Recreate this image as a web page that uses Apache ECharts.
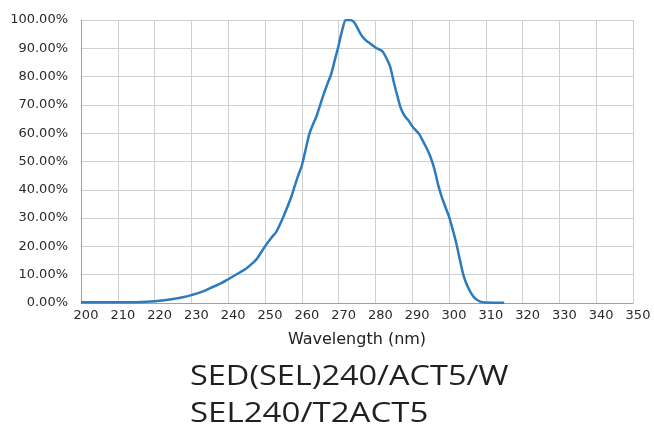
<!DOCTYPE html>
<html><head><meta charset="utf-8">
<script src="https://cdn.jsdelivr.net/npm/echarts@6/dist/echarts.min.js"></script>
<style>html,body{margin:0;padding:0;background:#fff}#c{width:654px;height:432px}</style>
</head><body><div id="c"></div>
<script>
const wavelengths = [200,205,210,215,218,220,222,225,228,230,233,235,238,240,243,245,247,248,250,252,253,255,257,258,259,260,261,262,263,264,265,266,267,268,269,270,271,272,273,274,275,276,277,278,279,280,281,282,283,284,285,286,287,288,289,290,291,292,293,294,295,296,297,298,299,300,301,302,303,304,305,306,307,308,309,310,312,315];
const intensity = [0.3,0.3,0.3,0.3,0.4,0.6,0.9,1.4,2.1,2.8,4.0,5.2,6.9,8.4,10.7,12.3,14.5,16,20,23.5,25,30.5,37,41,45,48.5,54,59.5,63,66,70,74,77.5,81,86,91,96.5,100,100,99.5,97.5,95,93.3,92.2,91.3,90.3,89.6,88.8,86.5,83.5,78,73,68.5,66,64.5,62.5,61,59.5,57,54.5,51.5,47.5,42,37.6,34,30.5,26,21,15,9.5,6,3.5,1.7,0.8,0.3,0.15,0.1,0.1];
const titleLines = ["SED(SEL)240/ACT5/W", "SEL240/T2ACT5"];
const xName = "Wavelength (nm)";

const chart = echarts.init(document.getElementById('c'), null, {renderer:'canvas'});
const titleFont = 'normal 28px "Open Sans"';
chart.setOption({
  animation:false,
  backgroundColor:'#fff',
  grid:{left:81,right:21,top:20,bottom:129,containLabel:false},
  graphic:[
    {type:'text',x:190,y:363,scaleX:1.16,style:{text:titleLines[0],font:titleFont,fill:'#231f20',verticalAlign:'top',align:'left'}},
    {type:'text',x:190,y:400,scaleX:1.18,style:{text:titleLines[1],font:titleFont,fill:'#231f20',verticalAlign:'top',align:'left'}}
  ],
  xAxis:{type:'value',min:200,max:350,interval:10,
    name:xName,nameLocation:'middle',nameGap:29,
    nameTextStyle:{fontFamily:'DejaVu Sans',fontSize:16,color:'#222'},
    axisLine:{show:true,lineStyle:{color:'#a0a0a0',width:1}},
    axisTick:{show:false},
    axisLabel:{fontFamily:'DejaVu Sans',fontSize:13,color:'#2a2a2a',margin:6,padding:[0,0,0,10]},
    splitLine:{show:true,lineStyle:{color:'#cfcfcf',width:1}}
  },
  yAxis:{type:'value',min:0,max:100,interval:10,
    axisLine:{show:true,lineStyle:{color:'#a0a0a0',width:1}},
    axisTick:{show:false},
    axisLabel:{fontFamily:'DejaVu Sans',fontSize:13,color:'#2a2a2a',margin:13,formatter:v=>v.toFixed(2)+'%'},
    splitLine:{show:true,lineStyle:{color:'#cfcfcf',width:1}}
  },
  series:[{type:'line',data:wavelengths.map((w,i)=>[w,intensity[i]]),smooth:0.3,symbol:'none',
    lineStyle:{color:'#2b7bbd',width:2.5},clip:true}]
});
</script></body></html>
